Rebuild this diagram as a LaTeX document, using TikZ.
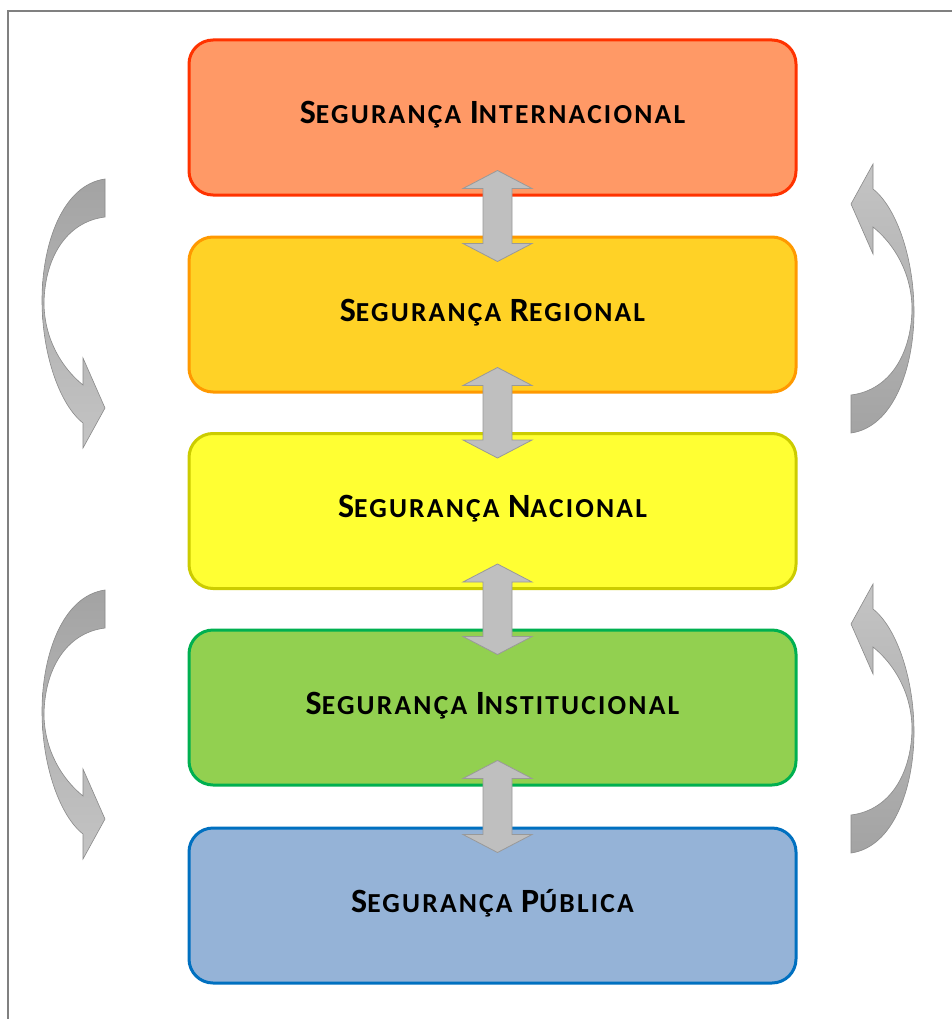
\documentclass[tikz,border=0pt]{standalone}
\usepackage{fontspec}
\setmainfont{Carlito}[LetterSpace=8]
\usetikzlibrary{calc}
\definecolor{f1}{HTML}{FF9966}\definecolor{d1}{HTML}{FF3300}
\definecolor{f2}{HTML}{FFD226}\definecolor{d2}{HTML}{FF9900}
\definecolor{f3}{HTML}{FFFF33}\definecolor{d3}{HTML}{CCCC00}
\definecolor{f4}{HTML}{92D050}\definecolor{d4}{HTML}{00B050}
\definecolor{f5}{HTML}{95B3D7}\definecolor{d5}{HTML}{0070C0}
\definecolor{arrfill}{HTML}{BFBFBF}\definecolor{arrline}{HTML}{999999}
\definecolor{cdark}{HTML}{A3A3A3}\definecolor{clight}{HTML}{C4C4C4}
\definecolor{frame}{HTML}{808080}
\newcommand\SC[2]{{\fontsize{34}{34}\selectfont #1}{\fontsize{27.5}{28}\selectfont #2}}
\newcommand\dblarr[2]{%
  \path (#1.south) ++(5,-26) coordinate (tA) (#2.north) ++(5,26) coordinate (tB);
  \filldraw[dbl] (tA) -- ++(34.5,18) -- ++(-20,0) -- ($(tB)+(14.5,-18)$) -- ++(20,0) -- (tB)
    -- ++(-34.5,-18) -- ++(20,0) -- ($(tA)+(-14.5,18)$) -- ++(-20,0) -- cycle;}
\begin{document}
\begin{tikzpicture}[x=1pt,y=-1pt,
  box/.style={draw, line width=3pt, rounded corners=24pt, minimum width=607pt, minimum height=155pt,
    inner sep=0pt, text height=22pt, text depth=9pt, font=\bfseries\fontsize{28}{28}\selectfont, text=black},
  dbl/.style={fill=arrfill, draw=arrline, line width=0.8pt, line join=miter},
  curv/.style={draw=arrline!90!black, line width=0.6pt}]
\useasboundingbox (0,0) rectangle (952,1019);
\fill[white] (0,0) rectangle (952,1019);
\draw[frame, line width=1.5pt] (8,1019) -- (8,11) -- (952,11);

\node[box, fill=f1, draw=d1] (b1) at (492.5,117.5) {\SC{S}{EGURANÇA} \SC{I}{NTERNACIONAL}};
\node[box, fill=f2, draw=d2] (b2) at (492.5,314.5) {\SC{S}{EGURANÇA} \SC{R}{EGIONAL}};
\node[box, fill=f3, draw=d3] (b3) at (492.5,511) {\SC{S}{EGURANÇA} \SC{N}{ACIONAL}};
\node[box, fill=f4, draw=d4] (b4) at (492.5,707.5) {\SC{S}{EGURANÇA} \SC{I}{NSTITUCIONAL}};
\node[box, fill=f5, draw=d5] (b5) at (492.5,905.5) {\SC{S}{EGURANÇA} \SC{P}{ÚBLICA}};

\dblarr{b1}{b2}
\dblarr{b2}{b3}
\dblarr{b3}{b4}
\dblarr{b4}{b5}

\foreach \yy in {179,590}{
\begin{scope}[shift={(105,\yy)}]
\shade[curv, top color=cdark, bottom color=clight, middle color=cdark!50!clight]
 (0,0) .. controls (-43,6) and (-63,66) .. (-63,121) .. controls (-63,176) and (-45,226) .. (-22,244)
 -- (-22,269) -- (0,229) -- (-22,179) -- (-22,206)
 .. controls (-43,189) and (-60,161) .. (-61,126) .. controls (-61,81) and (-40,43) .. (0,38) -- cycle;
\end{scope}}
\foreach \yy in {433,853}{
\begin{scope}[shift={(851,\yy)}]
\shade[curv, top color=clight, bottom color=cdark, middle color=cdark!50!clight]
 (0,0) .. controls (43,-6) and (63,-66) .. (63,-121) .. controls (63,-176) and (45,-226) .. (22,-244)
 -- (22,-269) -- (0,-229) -- (22,-179) -- (22,-206)
 .. controls (43,-189) and (60,-161) .. (61,-126) .. controls (61,-81) and (40,-43) .. (0,-38) -- cycle;
\end{scope}}
\end{tikzpicture}
\end{document}
